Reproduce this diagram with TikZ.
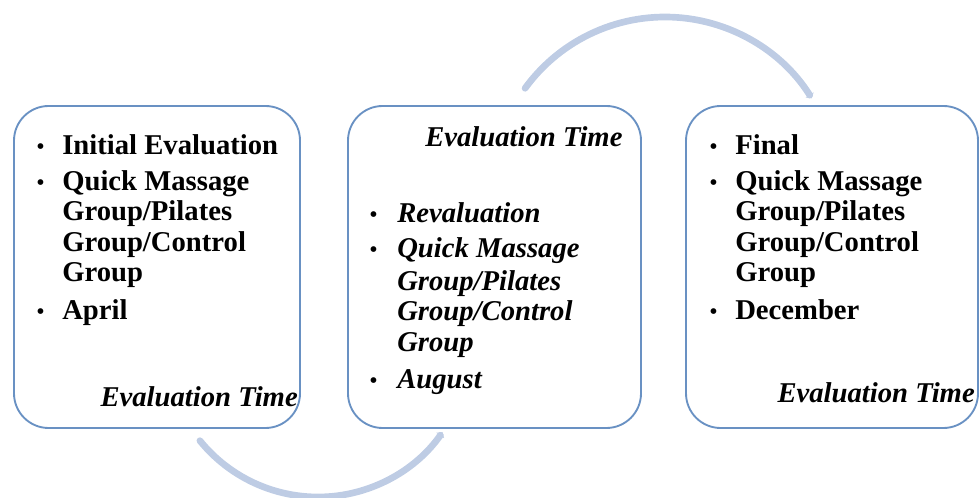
\documentclass[tikz,border=0pt]{standalone}
\usepackage{fontspec}
\setmainfont{Liberation Serif}
\usetikzlibrary{fit,calc,arrows.meta}
\definecolor{boxblue}{RGB}{105,145,195}
\definecolor{arcblue}{RGB}{190,204,228}
\tikzset{
  phase/.style={draw=boxblue, line width=1.4pt, rounded corners=26pt, inner sep=0pt},
  item/.style={anchor=base west, inner sep=0pt, font=\fontsize{21.5}{22.5}\selectfont\bfseries},
  itemit/.style={item, font=\fontsize{21.5}{22.5}\selectfont\bfseries\itshape},
  dot/.style={anchor=base west, inner sep=0pt, font=\fontsize{18}{20}\selectfont},
  cycle arc/.style={draw=arcblue, line width=5pt, -{Triangle[length=3pt,width=7pt]}}
}
\begin{document}
\begin{tikzpicture}[x=0.75pt, y=-0.75pt, line cap=round]
\useasboundingbox (0,0) rectangle (980,498);
% the three phases
\node[phase, fit={(14,106) (300,428)}] (initial) {};
\node[phase, fit={(348,106) (641,428)}] (review) {};
\node[phase, fit={(686,106) (978,428)}] (final) {};
% arcs between them
\coordinate (low) at (318,345);
\coordinate (high) at (665,190);
\draw[cycle arc] ($(low)+(141:152)$) arc[start angle=141, end angle=35, radius=152];
\draw[cycle arc] ($(high)+(216:173)$) arc[start angle=216, end angle=328, radius=173];
% first box
\foreach \y/\t [count=\i] in {155/Initial Evaluation, 191/Quick Massage, 221/{Group/Pilates}, 252/{Group/Control}, 282/Group, 320/April}
  \node[item] (initial-\i) at (62,\y) {\t};
\foreach \y in {155,191,320}
  \node[dot] (initial-dot\y) at (36,\y) {\textbullet};
\node[itemit, anchor=base east] (initial-time) at (298,406) {Evaluation Time};
% second box
\node[itemit] (review-time) at (425,147) {Evaluation Time};
\foreach \y/\t [count=\i] in {223/Revaluation, 258/Quick Massage, 291/{Group/Pilates}, 321/{Group/Control}, 352/Group, 388/August}
  \node[itemit] (review-\i) at (397,\y) {\t};
\foreach \y in {223,258,388}
  \node[dot] (review-dot\y) at (369,\y) {\textbullet};
% third box
\foreach \y/\t [count=\i] in {155/Final, 191/Quick Massage, 221/{Group/Pilates}, 252/{Group/Control}, 282/Group, 320/December}
  \node[item] (final-\i) at (735,\y) {\t};
\foreach \y in {155,191,320}
  \node[dot] (final-dot\y) at (709,\y) {\textbullet};
\node[itemit, anchor=base east] (final-time) at (975,402) {Evaluation Time};
\end{tikzpicture}
\end{document}
